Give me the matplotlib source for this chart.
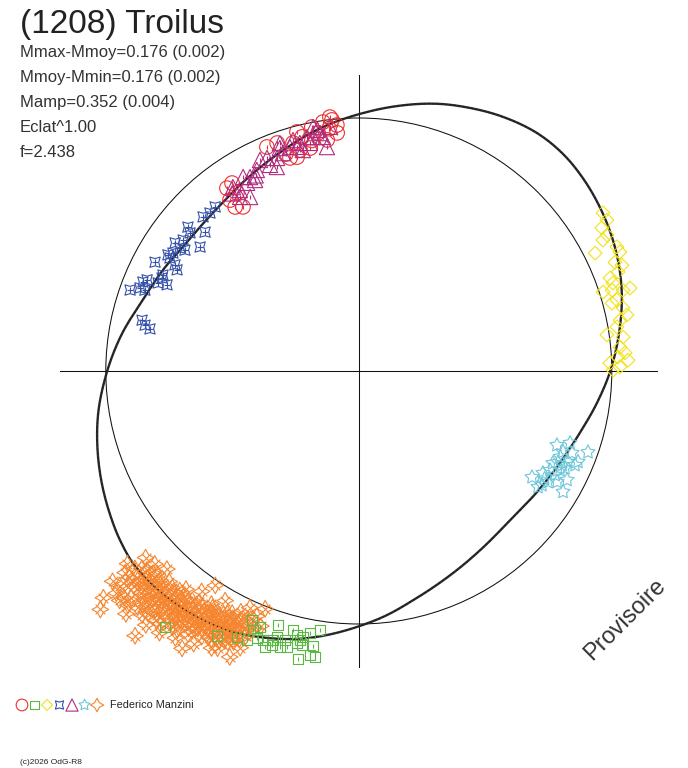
import numpy as np
import matplotlib
matplotlib.use("Agg")
import matplotlib.pyplot as plt
from matplotlib.patches import Circle

plt.rcParams['font.family'] = ['Liberation Sans', 'DejaVu Sans']

# ---- data: phase angle (deg) and radius (mean circle = 1)
curve_ang = [-0.2, 6.9, 15.7, 21.2, 27.3, 34.2, 40.9, 46.9, 53.2, 60.4, 67.3, 73.8,
             81.8, 89.8, 96.0, 99.9, 110.1, 121.3, 131.4, 143.3, 152.7, 161.8, 171.9,
             178.2, 182.0, 189.1, 196.2, 203.0, 209.7, 215.4, 221.2, 232.8, 243.0,
             247.6, 256.2, 261.0, 270.2, 275.6, 284.3, 294.2, 305.2, 315.4, 325.6,
             335.4, 344.3, 352.4]
curve_r = [0.993, 1.032, 1.080, 1.106, 1.130, 1.152, 1.169, 1.178, 1.175, 1.155, 1.128,
           1.100, 1.058, 1.016, 0.986, 0.967, 0.917, 0.876, 0.852, 0.849, 0.871, 0.899,
           0.952, 0.985, 1.005, 1.043, 1.076, 1.106, 1.134, 1.157, 1.173, 1.169, 1.149,
           1.131, 1.091, 1.064, 1.008, 0.977, 0.926, 0.884, 0.853, 0.840, 0.851, 0.874,
           0.907, 0.950]

red_ang = [98.2, 96.1, 95.2, 99.7, 100.9, 104.5, 106.1, 104.9, 102.3, 106.1, 107.9,
           112.3, 109.7, 97.8, 95.1, 124.0, 125.8, 124.4, 125.2, 127.0, 127.0, 97.0,
           101.5, 103.6, 108.6, 96.5]
red_r = [0.994, 0.998, 0.945, 0.955, 0.982, 0.976, 0.938, 0.904, 0.902, 0.880, 0.885,
         0.957, 0.957, 0.922, 0.976, 0.896, 0.891, 0.853, 0.794, 0.812, 0.846, 0.965,
         0.930, 0.952, 0.905, 1.010]

purple_ang = [98.1, 100.6, 99.3, 102.5, 104.5, 107.1, 109.2, 109.1, 111.9, 113.3, 115.1,
              116.9, 119.3, 120.7, 123.3, 122.0, 124.4, 101.1, 98.7, 104.2, 105.9, 113.3,
              118.5, 120.8, 124.3, 109.5, 105.4, 99.8, 102.1, 96.8, 111.0, 117.8, 125.5]
purple_r = [0.894, 0.981, 0.953, 0.947, 0.931, 0.926, 0.912, 0.953, 0.869, 0.887, 0.921,
            0.891, 0.879, 0.865, 0.856, 0.811, 0.881, 0.942, 0.936, 0.901, 0.949, 0.917,
            0.859, 0.893, 0.833, 0.935, 0.919, 0.967, 0.922, 0.972, 0.902, 0.874, 0.862]

blue_ang = [135.3, 133.3, 137.9, 139.9, 140.7, 143.3, 145.1, 145.5, 147.6, 148.7, 142.0,
            151.9, 150.0, 150.9, 153.9, 154.7, 155.8, 157.6, 156.7, 159.2, 159.3, 160.5,
            166.8, 167.9, 168.6, 131.2, 145.2, 149.1, 156.3]
blue_r = [0.866, 0.858, 0.819, 0.883, 0.862, 0.866, 0.885, 0.858, 0.870, 0.883, 0.796,
          0.913, 0.839, 0.822, 0.862, 0.860, 0.831, 0.923, 0.911, 0.925, 0.904, 0.959,
          0.880, 0.864, 0.842, 0.862, 0.837, 0.870, 0.866]

yellow_ang = [32.9, 31.3, 30.5, 28.7, 28.2, 25.7, 24.5, 26.5, 23.0, 21.9, 20.3, 19.1,
              17.0, 17.0, 15.4, 15.0, 13.4, 11.8, 11.0, 9.7, 8.3, 7.3, 5.2, 3.9, 3.1,
              2.3, 1.8, 0.2, 0.9, 17.7, 20.9, 17.9]
yellow_r = [1.150, 1.148, 1.115, 1.119, 1.095, 1.132, 1.134, 1.044, 1.100, 1.121, 1.059,
            1.063, 1.121, 1.092, 1.058, 1.036, 1.074, 1.083, 1.052, 1.035, 0.991, 1.053,
            1.037, 1.055, 1.026, 1.065, 0.993, 1.005, 1.032, 1.051, 1.097, 1.015]

cyan_ang = [339.5, 341.2, 338.4, 339.0, 336.9, 334.6, 335.4, 336.5, 337.5, 334.8, 333.8,
            332.6, 331.0, 332.1, 329.9, 328.5, 332.4, 328.1, 327.1, 329.4, 340.5, 329.6,
            330.8, 336.5, 335.2]
cyan_r = [0.836, 0.882, 0.868, 0.903, 0.865, 0.849, 0.866, 0.902, 0.938, 0.901, 0.886,
          0.851, 0.832, 0.878, 0.849, 0.803, 0.929, 0.853, 0.844, 0.938, 0.961, 0.867,
          0.898, 0.932, 0.885]

orange_ang = [219.8, 220.5, 221.2, 221.6, 222.0, 222.3, 222.7, 223.0, 223.4, 223.8, 224.1,
              224.5, 224.9, 225.2, 225.5, 225.9, 226.2, 226.6, 227.0, 227.3, 227.7, 228.0,
              228.4, 228.7, 229.1, 229.5, 229.8, 230.2, 230.5, 230.9, 231.2, 231.6, 232.0,
              232.3, 232.7, 233.0, 233.4, 233.8, 234.1, 234.5, 234.8, 235.2, 235.5, 235.9,
              236.2, 236.6, 237.0, 237.3, 237.7, 238.0, 238.4, 238.8, 239.1, 239.5, 239.8,
              240.2, 240.6, 240.9, 241.3, 241.7, 242.0, 242.4, 242.8, 243.1, 243.5, 243.9,
              244.2, 244.6, 245.0, 245.3, 245.7, 246.1, 246.5, 246.9, 247.4, 247.9, 248.5,
              249.0, 224.3, 226.8, 228.9, 231.0, 233.2, 236.0, 238.6, 241.5, 244.0, 230.0,
              222.5, 237.5, 243.0,
              220.8, 221.4, 221.9, 222.9, 223.2, 223.7, 224.0, 224.7, 225.1, 225.4, 225.8,
              226.0, 226.5, 226.9, 227.2, 227.6, 227.9, 228.2, 228.6, 229.0, 229.3, 229.7,
              230.0, 230.4, 230.8, 231.1, 231.5, 231.8, 232.2, 232.5, 232.9, 233.2, 233.6,
              234.0, 234.3, 234.7, 235.0, 235.4, 235.7, 236.1, 236.5, 236.8, 237.2, 237.6,
              238.0, 238.3, 238.7, 239.0, 239.4, 239.7, 240.1, 240.5, 240.8, 241.2, 241.6,
              242.0, 242.3, 242.7, 243.1, 243.5, 243.8, 244.2, 244.5, 244.9, 245.2, 245.6,
              246.0, 246.4, 246.8, 247.2]
orange_r = [1.19, 1.28, 1.12, 1.35, 1.22, 1.16, 1.39, 1.25, 1.11, 1.31, 1.20,
            1.14, 1.27, 1.18, 1.23, 1.09, 1.33, 1.21, 1.15, 1.26, 1.19, 1.12,
            1.29, 1.22, 1.17, 1.24, 1.37, 1.14, 1.20, 1.27, 1.18, 1.10, 1.23,
            1.16, 1.30, 1.21, 1.13, 1.25, 1.18, 1.07, 1.22, 1.15, 1.28, 1.19,
            1.02, 1.12, 1.24, 1.17, 1.09, 1.20, 1.14, 1.26, 1.11, 1.18, 1.05,
            1.15, 1.21, 1.10, 1.17, 1.13, 1.24, 1.08, 1.15, 1.11, 1.19, 1.06,
            1.13, 1.09, 1.16, 1.03, 1.24, 1.11, 1.07, 1.14, 1.05, 1.10, 1.01,
            1.08, 1.17, 1.19, 1.20, 1.15, 1.17, 1.16, 1.12, 1.19, 1.17, 1.31,
            1.30, 1.30, 1.23,
            1.22, 1.18, 1.27, 1.20, 1.15, 1.23, 1.29, 1.21, 1.13, 1.30, 1.17,
            1.24, 1.14, 1.28, 1.22, 1.17, 1.25, 1.16, 1.20, 1.27, 1.13, 1.21,
            1.17, 1.25, 1.12, 1.22, 1.19, 1.27, 1.13, 1.20, 1.15, 1.24, 1.19,
            1.12, 1.21, 1.16, 1.25, 1.11, 1.20, 1.14, 1.22, 1.18, 1.13, 1.21,
            1.16, 1.10, 1.19, 1.14, 1.22, 1.16, 1.11, 1.18, 1.14, 1.21, 1.09,
            1.16, 1.12, 1.20, 1.15, 1.10, 1.14, 1.19, 1.12, 1.08, 1.18, 1.13,
            1.16, 1.10, 1.19, 1.12]

green_ang = [232.9, 241.8, 246.8, 248.9, 247.8, 249.1, 250.4, 251.2, 252.4, 252.4, 252.9,
             254.1, 254.7, 255.7, 256.8, 257.7, 258.2, 259.4, 261.5, 260.5, 257.2, 260.2,
             261.3, 258.1, 251.2, 255.4, 258.3, 247.4, 245.4, 252.3]
green_r = [1.269, 1.188, 1.071, 1.085, 1.106, 1.129, 1.129, 1.152, 1.136, 1.053, 1.100,
           1.134, 1.102, 1.056, 1.072, 1.088, 1.074, 1.053, 1.035, 1.102, 1.102, 1.139,
           1.144, 1.163, 1.123, 1.127, 1.106, 1.151, 1.156, 1.116]

title = "(1208) Troilus"
stats = ["Mmax-Mmoy=0.176 (0.002)", "Mmoy-Mmin=0.176 (0.002)", "Mamp=0.352 (0.004)",
         "Eclat^1.00", "f=2.438"]
observer = "Federico Manzini"
copyright_txt = "(c)2026 OdG-R8"

# ---- styles
W, H = 688, 768
CX, CY, R = 358.8, 371.0, 253.0   # centre and radius of the mean circle, px

# (angles, radii, marker, size, colour, inner mark, inner size)
groups = {
  'red': (red_ang, red_r, 'o', 10.5, '#ee3030', '|', 3.5),
  'green': (green_ang, green_r, 's', 7.4, '#5cb846', '|', 3.5),
  'yellow': (yellow_ang, yellow_r, 'D', 7.0, '#f2e21a', None, 0),
  'blue': (blue_ang, blue_r, (4, 1, 45), 10.5, '#3552a8', '+', 4),
  'purple': (purple_ang, purple_r, '^', 11, '#b02c80', '|', 3.5),
  'cyan': (cyan_ang, cyan_r, (5, 1, 0), 10.5, '#6ec6da', None, 0),
  'orange': (orange_ang, orange_r, (4, 1, 0), 12, '#f5852e', 'x', 7),
}
legend_order = ['red', 'green', 'yellow', 'blue', 'purple', 'cyan', 'orange']
draw_order = ['orange', 'green', 'red', 'purple', 'blue', 'yellow', 'cyan']


def to_xy(ang, r):
  a = np.radians(np.asarray(ang, dtype=float))
  r = np.asarray(r, dtype=float)
  return r * np.cos(a), r * np.sin(a)


def polar_line(ang, r, steps=16):
  # periodic cubic Hermite r(angle) through the points
  a = np.asarray(ang, dtype=float)
  r = np.asarray(r, dtype=float)
  n = len(a)
  ae = np.concatenate([[a[-1] - 360], a, [a[0] + 360]])
  re = np.concatenate([[r[-1]], r, [r[0]]])
  m = (re[2:] - re[:-2]) / (ae[2:] - ae[:-2])
  ts, rs = [], []
  for i in range(n):
    j = (i + 1) % n
    a0, a1 = a[i], a[j] + (360 if j == 0 else 0)
    h = a1 - a0
    t = np.linspace(0, 1, steps, endpoint=False)
    h00 = 2 * t ** 3 - 3 * t ** 2 + 1
    h10 = t ** 3 - 2 * t ** 2 + t
    h01 = -2 * t ** 3 + 3 * t ** 2
    h11 = t ** 3 - t ** 2
    ts.append(a0 + h * t)
    rs.append(h00 * r[i] + h10 * h * m[i] + h01 * r[j] + h11 * h * m[j])
  ts = np.concatenate(ts + [[a[0] + 360]])
  rs = np.concatenate(rs + [[r[0]]])
  return to_xy(ts, rs)


fig = plt.figure(figsize=(W / 100, H / 100), dpi=100, facecolor='w')
ax = fig.add_axes([0, 0, 1, 1])
ax.set_xlim(-CX / R, (W - CX) / R)
ax.set_ylim((CY - H) / R, CY / R)
ax.axis('off')

# axes cross and mean circle
ax.plot([-1.18, 1.18], [0, 0], color='#111111', lw=0.75, zorder=1)
ax.plot([0, 0], [-1.17, 1.17], color='#111111', lw=0.75, zorder=1)
ax.add_patch(Circle((0, 0), 1.0, fill=False, ec='#111111', lw=0.75, zorder=1))

# model curve (thick under the points, dotted over them)
cx, cy = polar_line(curve_ang, curve_r)
ax.plot(cx, cy, color='#2a2a2a', lw=1.7, zorder=2)

z = 3
for name in draw_order:
  ang, rr, mk, ms, col, inner, ims = groups[name]
  x, y = to_xy(ang, rr)
  ax.scatter(x, y, s=ms ** 2, marker=mk, facecolors='none', edgecolors=col,
             linewidths=0.8, zorder=z)
  if inner:
    ax.scatter(x, y, s=ims ** 2, marker=inner, color=col, linewidths=0.8, zorder=z)
  z += 0.1

ax.plot(cx, cy, color='#1a1a1a', lw=0.9, ls=(0, (1, 2.5)), zorder=5)

# texts
fig.text(20 / W, 1 - 33 / H, title, fontsize=24, color='#222222', va='baseline', ha='left')
for i, s in enumerate(stats):
  fig.text(20 / W, 1 - (57 + 25 * i) / H, s, fontsize=12, color='#333333',
           va='baseline', ha='left')

fig.text(625 / W, 1 - 620 / H, "Provisoire", fontsize=17, color='#333333',
         rotation=45, ha='center', va='center')

# legend row
for k, name in enumerate(legend_order):
  _, _, mk, ms, col, _, _ = groups[name]
  ax.scatter([(22 + 12.5 * k) / W], [1 - 705 / H], s=(ms * 0.8) ** 2, marker=mk,
             facecolors='none', edgecolors=col, linewidths=0.8,
             transform=fig.transFigure, clip_on=False)
fig.text(110 / W, 1 - 705 / H, observer, fontsize=7.8, color='#222222',
         va='center', ha='left')
fig.text(20 / W, 1 - 762 / H, copyright_txt, fontsize=6, color='#222222',
         va='center', ha='left')

fig.savefig("out.png", dpi=100, facecolor='w')
plt.close(fig)
